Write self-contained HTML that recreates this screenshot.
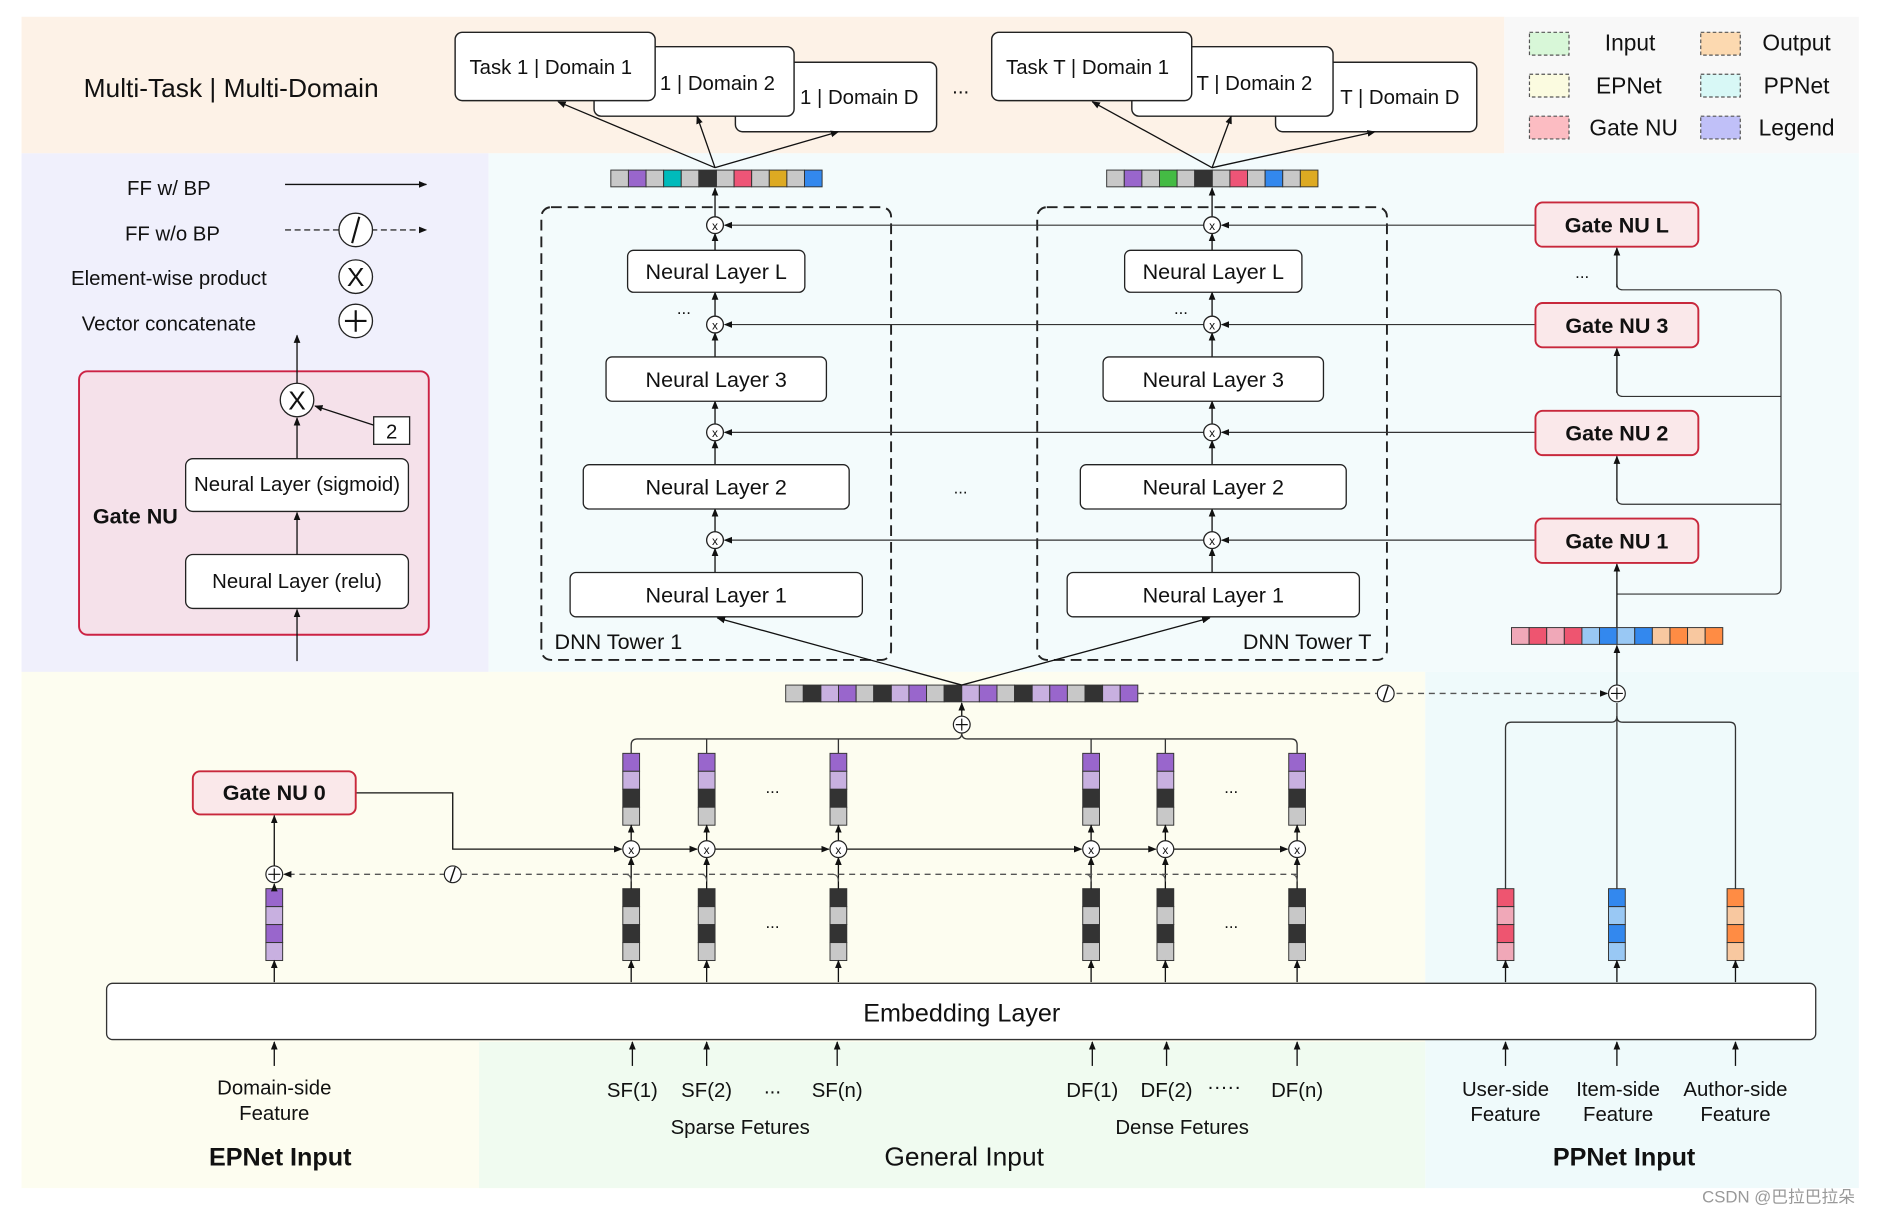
<!DOCTYPE html>
<html><head><meta charset="utf-8"><style>html,body{margin:0;padding:0;background:#fff}svg{display:block}text{font-family:"Liberation Sans","Noto Sans CJK SC",sans-serif;fill:#111}</style></head><body>
<svg width="1878" height="1216" viewBox="0 0 1568 1015.3" preserveAspectRatio="none" xmlns="http://www.w3.org/2000/svg">
<defs>
<marker id="a" viewBox="0 0 10 10" refX="9" refY="5" markerWidth="7" markerHeight="7" markerUnits="userSpaceOnUse" orient="auto"><path d="M0,1 L10,5 L0,9 z" fill="#111"/></marker>
</defs>
<!-- backgrounds -->
<rect x="18" y="14" width="1238" height="114" fill="#fdf2e7"/>
<rect x="1256" y="14" width="296" height="114" fill="#f8f8f8"/>
<rect x="18" y="128" width="390" height="433" fill="#f0f0fc"/>
<rect x="408" y="128" width="1144" height="433" fill="#f3fbfc"/>
<rect x="18" y="561" width="1172" height="431" fill="#fdfdf0"/>
<rect x="400" y="870" width="790" height="122" fill="#f0fbf0"/>
<rect x="1190" y="561" width="362" height="431" fill="#effafb"/>
<!-- legend top right -->
<g stroke="#555" stroke-dasharray="3,2" stroke-width="1">
<rect x="1277" y="27" width="33" height="19" fill="#d8f7d8"/>
<rect x="1420" y="27" width="33" height="19" fill="#fcd9b0"/>
<rect x="1277" y="62" width="33" height="19" fill="#fbfbe0"/>
<rect x="1420" y="62" width="33" height="19" fill="#d8f8f6"/>
<rect x="1277" y="97" width="33" height="19" fill="#fcbcc2"/>
<rect x="1420" y="97" width="33" height="19" fill="#c0c0f8"/>
</g>
<g font-size="19" text-anchor="middle">
<text x="1361" y="42">Input</text><text x="1500" y="42">Output</text>
<text x="1360" y="78">EPNet</text><text x="1500" y="78">PPNet</text>
<text x="1364" y="113">Gate NU</text><text x="1500" y="113">Legend</text>
</g>
<text x="193" y="81" font-size="22" text-anchor="middle">Multi-Task | Multi-Domain</text>
<!-- task boxes -->
<g stroke="#222" stroke-width="1.2" fill="#fff">
<rect x="614" y="52" width="168" height="58" rx="6"/>
<rect x="496" y="39" width="167" height="58" rx="6"/>
<rect x="380" y="27" width="167" height="57" rx="6"/>
<rect x="1065" y="52" width="168" height="58" rx="6"/>
<rect x="945" y="39" width="168" height="58" rx="6"/>
<rect x="828" y="27" width="167" height="57" rx="6"/>
</g>
<g font-size="17">
<text x="392" y="62">Task 1 | Domain 1</text>
<text x="551" y="75">1 | Domain 2</text>
<text x="668" y="87">1 | Domain D</text>
<text x="840" y="62">Task T | Domain 1</text>
<text x="999" y="75">T | Domain 2</text>
<text x="1119" y="87">T | Domain D</text>
<text x="795" y="78">...</text>
</g>
<g stroke="#111" stroke-width="1.1" marker-end="url(#a)">
<line x1="597" y1="140" x2="466" y2="85"/><line x1="597" y1="140" x2="582" y2="97"/><line x1="597" y1="140" x2="700" y2="110"/>
<line x1="1012" y1="140" x2="912" y2="85"/><line x1="1012" y1="140" x2="1028" y2="97"/><line x1="1012" y1="140" x2="1148" y2="110"/>
</g>
<!-- output vectors -->
<g stroke="#333" stroke-width="0.8">
<rect x="510" y="142" width="14.7" height="14" fill="#c8c8c8"/><rect x="524.7" y="142" width="14.7" height="14" fill="#9966cc"/><rect x="539.4" y="142" width="14.7" height="14" fill="#c8c8c8"/><rect x="554.1" y="142" width="14.7" height="14" fill="#00bbbb"/><rect x="568.8" y="142" width="14.7" height="14" fill="#c8c8c8"/><rect x="583.5" y="142" width="14.7" height="14" fill="#333"/><rect x="598.2" y="142" width="14.7" height="14" fill="#c8c8c8"/><rect x="612.9" y="142" width="14.7" height="14" fill="#ee5577"/><rect x="627.6" y="142" width="14.7" height="14" fill="#c8c8c8"/><rect x="642.3" y="142" width="14.7" height="14" fill="#ddaa22"/><rect x="657" y="142" width="14.7" height="14" fill="#c8c8c8"/><rect x="671.7" y="142" width="14.7" height="14" fill="#3388ee"/>
<rect x="924" y="142" width="14.7" height="14" fill="#c8c8c8"/><rect x="938.7" y="142" width="14.7" height="14" fill="#9966cc"/><rect x="953.4" y="142" width="14.7" height="14" fill="#c8c8c8"/><rect x="968.1" y="142" width="14.7" height="14" fill="#44bb44"/><rect x="982.8" y="142" width="14.7" height="14" fill="#c8c8c8"/><rect x="997.5" y="142" width="14.7" height="14" fill="#333"/><rect x="1012.2" y="142" width="14.7" height="14" fill="#c8c8c8"/><rect x="1026.9" y="142" width="14.7" height="14" fill="#ee5577"/><rect x="1041.6" y="142" width="14.7" height="14" fill="#c8c8c8"/><rect x="1056.3" y="142" width="14.7" height="14" fill="#3388ee"/><rect x="1071" y="142" width="14.7" height="14" fill="#c8c8c8"/><rect x="1085.7" y="142" width="14.7" height="14" fill="#ddaa22"/>
</g>
<!-- towers -->
<g fill="none" stroke="#222" stroke-width="1.6" stroke-dasharray="9,5">
<rect x="452" y="173" width="292" height="378" rx="8"/>
<rect x="866" y="173" width="292" height="378" rx="8"/>
</g>
<!-- gate lines -->
<g stroke="#333" stroke-width="1" marker-end="url(#a)">
<line x1="1282" y1="188" x2="1020" y2="188"/><line x1="1005" y1="188" x2="605" y2="188"/>
<line x1="1282" y1="271" x2="1020" y2="271"/><line x1="1005" y1="271" x2="605" y2="271"/>
<line x1="1282" y1="361" x2="1020" y2="361"/><line x1="1005" y1="361" x2="605" y2="361"/>
<line x1="1282" y1="451" x2="1020" y2="451"/><line x1="1005" y1="451" x2="605" y2="451"/>
</g>
<g id="t1">
<g stroke="#111" stroke-width="1.1" marker-end="url(#a)">
<line x1="597" y1="181" x2="597" y2="157"/>
<line x1="597" y1="209" x2="597" y2="195"/>
<line x1="597" y1="264" x2="597" y2="244"/>
<line x1="597" y1="298" x2="597" y2="278"/>
<line x1="597" y1="354" x2="597" y2="335"/>
<line x1="597" y1="388" x2="597" y2="368"/>
<line x1="597" y1="444" x2="597" y2="425"/>
<line x1="597" y1="478" x2="597" y2="458"/>
</g>
<g stroke="#222" stroke-width="1.1" fill="#fff">
<rect x="524" y="209" width="148" height="35" rx="5"/>
<rect x="506" y="298" width="184" height="37" rx="5"/>
<rect x="487" y="388" width="222" height="37" rx="5"/>
<rect x="476" y="478" width="244" height="37" rx="5"/>
<circle cx="597" cy="188" r="7"/><circle cx="597" cy="271" r="7"/><circle cx="597" cy="361" r="7"/><circle cx="597" cy="451" r="7"/>
</g>
<g font-size="10" text-anchor="middle"><text x="597" y="192">x</text><text x="597" y="275">x</text><text x="597" y="365">x</text><text x="597" y="455">x</text></g>
<g font-size="18" text-anchor="middle">
<text x="598" y="233">Neural Layer L</text><text x="598" y="323">Neural Layer 3</text><text x="598" y="413">Neural Layer 2</text><text x="598" y="503">Neural Layer 1</text>
<text x="571" y="262" font-size="14">...</text>
</g>
</g>
<use href="#t1" x="415"/>
<text x="463" y="542" font-size="18">DNN Tower 1</text>
<text x="1145" y="542" font-size="18" text-anchor="end">DNN Tower T</text>
<text x="802" y="412" font-size="14" text-anchor="middle">...</text>
<!-- gate NU boxes -->
<g stroke="#c8283c" stroke-width="1.6" fill="#fae8ea">
<rect x="1282" y="169" width="136" height="37" rx="6"/>
<rect x="1282" y="253" width="136" height="37" rx="6"/>
<rect x="1282" y="343" width="136" height="37" rx="6"/>
<rect x="1282" y="433" width="136" height="37" rx="6"/>
</g>
<g font-size="18" font-weight="bold" text-anchor="middle">
<text x="1350" y="194">Gate NU L</text><text x="1350" y="278">Gate NU 3</text><text x="1350" y="368">Gate NU 2</text><text x="1350" y="458">Gate NU 1</text>
</g>
<text x="1321" y="232" font-size="14" text-anchor="middle">...</text>
<g fill="none" stroke="#333" stroke-width="1">
<path d="M1350 496 H1482 Q1487 496 1487 491 V247 Q1487 242 1482 242 H1355 Q1350 242 1350 237"/>
<path d="M1487 331 H1355 Q1350 331 1350 326"/>
<path d="M1487 421 H1355 Q1350 421 1350 416"/>
</g>
<g stroke="#111" stroke-width="1.1" marker-end="url(#a)">
<line x1="1350" y1="240" x2="1350" y2="207"/>
<line x1="1350" y1="328" x2="1350" y2="291"/>
<line x1="1350" y1="418" x2="1350" y2="381"/>
<line x1="1350" y1="524" x2="1350" y2="471"/>
<line x1="1350" y1="572" x2="1350" y2="539"/>
</g>
<!-- gate vector -->
<g stroke="#333" stroke-width="0.8">
<rect x="1262" y="524" width="14.7" height="14" fill="#f0a8b8"/><rect x="1276.7" y="524" width="14.7" height="14" fill="#ee5570"/><rect x="1291.4" y="524" width="14.7" height="14" fill="#f0a8b8"/><rect x="1306.1" y="524" width="14.7" height="14" fill="#ee5570"/><rect x="1320.8" y="524" width="14.7" height="14" fill="#99c8f4"/><rect x="1335.5" y="524" width="14.7" height="14" fill="#3388ee"/><rect x="1350.2" y="524" width="14.7" height="14" fill="#99c8f4"/><rect x="1364.9" y="524" width="14.7" height="14" fill="#3388ee"/><rect x="1379.6" y="524" width="14.7" height="14" fill="#f8c8a0"/><rect x="1394.3" y="524" width="14.7" height="14" fill="#ff8c44"/><rect x="1409" y="524" width="14.7" height="14" fill="#f8c8a0"/><rect x="1423.7" y="524" width="14.7" height="14" fill="#ff8c44"/>
</g>
<!-- concat vector -->
<g stroke="#333" stroke-width="0.8">
<rect x="656" y="572" width="14.7" height="14" fill="#c8c8c8"/><rect x="670.7" y="572" width="14.7" height="14" fill="#333"/><rect x="685.4" y="572" width="14.7" height="14" fill="#c8b0e0"/><rect x="700.1" y="572" width="14.7" height="14" fill="#9966cc"/>
<rect x="714.8" y="572" width="14.7" height="14" fill="#c8c8c8"/><rect x="729.5" y="572" width="14.7" height="14" fill="#333"/><rect x="744.2" y="572" width="14.7" height="14" fill="#c8b0e0"/><rect x="758.9" y="572" width="14.7" height="14" fill="#9966cc"/>
<rect x="773.6" y="572" width="14.7" height="14" fill="#c8c8c8"/><rect x="788.3" y="572" width="14.7" height="14" fill="#333"/><rect x="803" y="572" width="14.7" height="14" fill="#c8b0e0"/><rect x="817.7" y="572" width="14.7" height="14" fill="#9966cc"/>
<rect x="832.4" y="572" width="14.7" height="14" fill="#c8c8c8"/><rect x="847.1" y="572" width="14.7" height="14" fill="#333"/><rect x="861.8" y="572" width="14.7" height="14" fill="#c8b0e0"/><rect x="876.5" y="572" width="14.7" height="14" fill="#9966cc"/>
<rect x="891.2" y="572" width="14.7" height="14" fill="#c8c8c8"/><rect x="905.9" y="572" width="14.7" height="14" fill="#333"/><rect x="920.6" y="572" width="14.7" height="14" fill="#c8b0e0"/><rect x="935.3" y="572" width="14.7" height="14" fill="#9966cc"/>
</g>
<g stroke="#111" stroke-width="1.1" marker-end="url(#a)">
<line x1="803" y1="572" x2="599" y2="516"/><line x1="803" y1="572" x2="1010" y2="516"/>
<line x1="803" y1="598" x2="803" y2="587"/>
</g>
<line x1="950" y1="579" x2="1342" y2="579" stroke="#555" stroke-width="1.2" stroke-dasharray="5,4" marker-end="url(#a)"/>
<circle cx="1157" cy="579" r="7" fill="#fff" stroke="#222"/><line x1="1155" y1="585" x2="1159" y2="573" stroke="#111" stroke-width="1.2"/>
<circle cx="1350" cy="579" r="7" fill="#fff" stroke="#222"/><path d="M1345 579 H1355 M1350 574 V584" stroke="#111"/>
<circle cx="803" cy="605" r="7" fill="#fff" stroke="#222"/><path d="M798 605 H808 M803 600 V610" stroke="#111"/>
<!-- branches -->
<g fill="none" stroke="#333" stroke-width="1.1">
<path d="M803 612 Q803 617 798 617 H532 Q527 617 527 622 V629"/>
<path d="M590 617 Q590 617 590 622 V629"/><path d="M700 617 V629"/>
<path d="M803 612 Q803 617 808 617 H1078 Q1083 617 1083 622 V629"/>
<path d="M911 617 V629"/><path d="M973 617 V629"/>
</g>
<!-- columns -->
<g id="col">
<g stroke="#333" stroke-width="0.8">
<rect x="520" y="629" width="14" height="15" fill="#9966cc"/><rect x="520" y="644" width="14" height="15" fill="#c8b0e0"/><rect x="520" y="659" width="14" height="15" fill="#333"/><rect x="520" y="674" width="14" height="15" fill="#c8c8c8"/>
<rect x="520" y="742" width="14" height="15" fill="#333"/><rect x="520" y="757" width="14" height="15" fill="#c8c8c8"/><rect x="520" y="772" width="14" height="15" fill="#333"/><rect x="520" y="787" width="14" height="15" fill="#c8c8c8"/>
</g>
<g stroke="#111" stroke-width="1.1" marker-end="url(#a)">
<line x1="527" y1="702" x2="527" y2="689"/><line x1="527" y1="742" x2="527" y2="716"/><line x1="527" y1="820" x2="527" y2="802"/>
</g>
<path d="M522 730 Q527 730 527 736" fill="none" stroke="#555"/>
</g>
<use href="#col" x="63"/><use href="#col" x="173"/><use href="#col" x="384"/><use href="#col" x="446"/><use href="#col" x="556"/>
<g font-size="14" text-anchor="middle"><text x="645" y="662">...</text><text x="645" y="775">...</text><text x="1028" y="662">...</text><text x="1028" y="775">...</text></g>
<!-- horizontal gate 0 line -->
<g stroke="#111" stroke-width="1.1" marker-end="url(#a)">
<path d="M297 662 H378 V709 H519" fill="none"/>
<line x1="534" y1="709" x2="582" y2="709"/><line x1="597" y1="709" x2="692" y2="709"/><line x1="707" y1="709" x2="903" y2="709"/><line x1="918" y1="709" x2="965" y2="709"/><line x1="980" y1="709" x2="1075" y2="709"/>
</g>
<line x1="1083" y1="730" x2="237" y2="730" stroke="#555" stroke-width="1.2" stroke-dasharray="5,4" marker-end="url(#a)"/>
<circle cx="378" cy="730" r="7" fill="#fff" stroke="#222"/><line x1="376" y1="736" x2="380" y2="724" stroke="#111" stroke-width="1.2"/>
<g stroke="#222" fill="#fff">
<circle cx="527" cy="709" r="7"/><circle cx="590" cy="709" r="7"/><circle cx="700" cy="709" r="7"/><circle cx="911" cy="709" r="7"/><circle cx="973" cy="709" r="7"/><circle cx="1083" cy="709" r="7"/>
</g>
<g font-size="10" text-anchor="middle"><text x="527" y="713">x</text><text x="590" y="713">x</text><text x="700" y="713">x</text><text x="911" y="713">x</text><text x="973" y="713">x</text><text x="1083" y="713">x</text></g>
<!-- gate NU 0 -->
<rect x="161" y="644" width="136" height="36" rx="6" fill="#fae8ea" stroke="#c8283c" stroke-width="1.6"/>
<text x="229" y="668" font-size="18" font-weight="bold" text-anchor="middle">Gate NU 0</text>
<circle cx="229" cy="730" r="7" fill="#fff" stroke="#222"/><path d="M224 730 H234 M229 725 V735" stroke="#111"/>
<g stroke="#333" stroke-width="0.8">
<rect x="222" y="742" width="14" height="15" fill="#9966cc"/><rect x="222" y="757" width="14" height="15" fill="#c8b0e0"/><rect x="222" y="772" width="14" height="15" fill="#9966cc"/><rect x="222" y="787" width="14" height="15" fill="#c8b0e0"/>
<rect x="1250" y="742" width="14" height="15" fill="#ee5570"/><rect x="1250" y="757" width="14" height="15" fill="#f0a8b8"/><rect x="1250" y="772" width="14" height="15" fill="#ee5570"/><rect x="1250" y="787" width="14" height="15" fill="#f0a8b8"/>
<rect x="1343" y="742" width="14" height="15" fill="#3388ee"/><rect x="1343" y="757" width="14" height="15" fill="#99c8f4"/><rect x="1343" y="772" width="14" height="15" fill="#3388ee"/><rect x="1343" y="787" width="14" height="15" fill="#99c8f4"/>
<rect x="1442" y="742" width="14" height="15" fill="#ff8c44"/><rect x="1442" y="757" width="14" height="15" fill="#f8c8a0"/><rect x="1442" y="772" width="14" height="15" fill="#ff8c44"/><rect x="1442" y="787" width="14" height="15" fill="#f8c8a0"/>
</g>
<g fill="none" stroke="#333" stroke-width="1.1">
<path d="M1257 742 V608 Q1257 603 1262 603 H1345 Q1350 603 1350 598"/>
<path d="M1449 742 V608 Q1449 603 1444 603 H1355 Q1350 603 1350 598"/>
<path d="M1350 742 V587"/>
</g>
<g stroke="#111" stroke-width="1.1" marker-end="url(#a)">
<line x1="229" y1="742" x2="229" y2="738"/><line x1="229" y1="723" x2="229" y2="681"/>
<line x1="229" y1="820" x2="229" y2="802"/><line x1="1257" y1="820" x2="1257" y2="802"/><line x1="1350" y1="820" x2="1350" y2="802"/><line x1="1449" y1="820" x2="1449" y2="802"/>
<line x1="229" y1="890" x2="229" y2="870"/><line x1="528" y1="890" x2="528" y2="870"/><line x1="590" y1="890" x2="590" y2="870"/><line x1="699" y1="890" x2="699" y2="870"/><line x1="912" y1="890" x2="912" y2="870"/><line x1="974" y1="890" x2="974" y2="870"/><line x1="1083" y1="890" x2="1083" y2="870"/><line x1="1257" y1="890" x2="1257" y2="870"/><line x1="1350" y1="890" x2="1350" y2="870"/><line x1="1449" y1="890" x2="1449" y2="870"/>
</g>
<!-- embedding -->
<rect x="89" y="821" width="1427" height="47" rx="5" fill="#fff" stroke="#333" stroke-width="1.1"/>
<text x="803" y="853" font-size="21" text-anchor="middle">Embedding Layer</text>
<g font-size="17" text-anchor="middle">
<text x="229" y="914">Domain-side</text><text x="229" y="935">Feature</text>
<text x="528" y="916">SF(1)</text><text x="590" y="916">SF(2)</text><text x="645" y="913">...</text><text x="699" y="916">SF(n)</text>
<text x="912" y="916">DF(1)</text><text x="974" y="916">DF(2)</text><text x="1022" y="913">·····</text><text x="1083" y="916">DF(n)</text>
<text x="618" y="947">Sparse Fetures</text><text x="987" y="947">Dense Fetures</text>
<text x="1257" y="915">User-side</text><text x="1257" y="936">Feature</text>
<text x="1351" y="915">Item-side</text><text x="1351" y="936">Feature</text>
<text x="1449" y="915">Author-side</text><text x="1449" y="936">Feature</text>
</g>
<text x="234" y="973" font-size="21" font-weight="bold" text-anchor="middle">EPNet Input</text>
<text x="805" y="973" font-size="22" text-anchor="middle">General Input</text>
<text x="1356" y="973" font-size="21" font-weight="bold" text-anchor="middle">PPNet Input</text>
<text x="1485" y="1004" font-size="14" text-anchor="middle" style="fill:#999">CSDN @巴拉巴拉朵</text>
<!-- left legend -->
<g font-size="17" text-anchor="middle">
<text x="141" y="163">FF w/ BP</text><text x="144" y="201">FF w/o BP</text>
<text x="141" y="238">Element-wise product</text><text x="141" y="276">Vector concatenate</text>
</g>
<line x1="238" y1="154" x2="356" y2="154" stroke="#111" stroke-width="1.1" marker-end="url(#a)"/>
<line x1="238" y1="192" x2="356" y2="192" stroke="#333" stroke-width="1.1" stroke-dasharray="5,3" marker-end="url(#a)"/>
<g fill="#fff" stroke="#222" stroke-width="1.1">
<circle cx="297" cy="192" r="14"/><circle cx="297" cy="231" r="14"/><circle cx="297" cy="268" r="14"/>
</g>
<line x1="294" y1="203" x2="300" y2="181" stroke="#111" stroke-width="1.8"/>
<text x="297" y="239" font-size="22" text-anchor="middle">X</text>
<path d="M288 268 H306 M297 259 V277" stroke="#111" stroke-width="1.8"/>
<rect x="66" y="310" width="292" height="220" rx="7" fill="#f5e1ea" stroke="#cc2244" stroke-width="1.6"/>
<text x="113" y="437" font-size="18" font-weight="bold" text-anchor="middle">Gate NU</text>
<g stroke="#222" stroke-width="1.1" fill="#fff">
<rect x="155" y="383" width="186" height="44" rx="6"/>
<rect x="155" y="463" width="186" height="45" rx="6"/>
<rect x="312" y="348" width="30" height="23" fill="#fff"/>
<circle cx="248" cy="334" r="14"/>
</g>
<text x="248" y="410" font-size="17" text-anchor="middle">Neural Layer (sigmoid)</text>
<text x="248" y="491" font-size="17" text-anchor="middle">Neural Layer (relu)</text>
<text x="327" y="366" font-size="17" text-anchor="middle">2</text>
<text x="248" y="342" font-size="22" text-anchor="middle">X</text>
<g stroke="#111" stroke-width="1.1" marker-end="url(#a)">
<line x1="248" y1="552" x2="248" y2="509"/><line x1="248" y1="463" x2="248" y2="428"/><line x1="248" y1="383" x2="248" y2="349"/><line x1="248" y1="320" x2="248" y2="280"/><line x1="312" y1="355" x2="263" y2="339"/>
</g>
</svg>
</body></html>
